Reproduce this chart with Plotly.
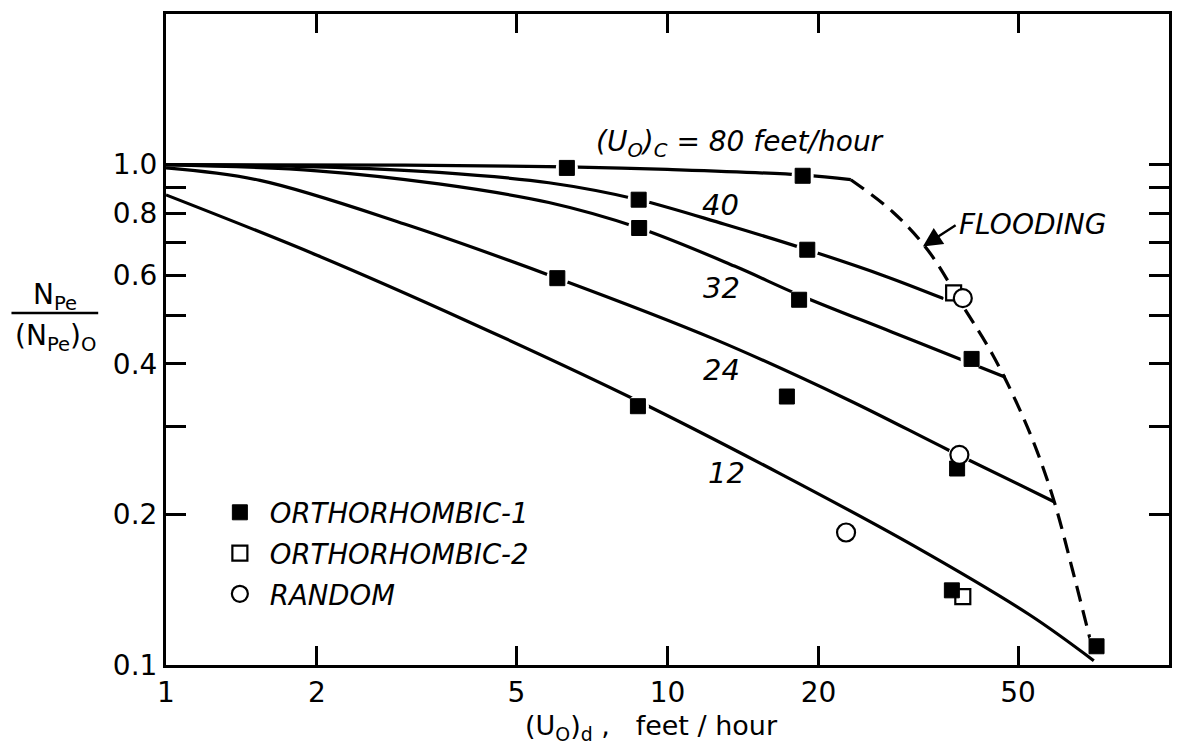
import numpy as np
import plotly.graph_objects as go

# ---- curves: N_Pe/(N_Pe)_0 vs (U_0)_d for several continuous-phase velocities ----
c80_x = [1, 3, 6.3, 10, 18.6, 23.2]
c80_y = [1.0, 0.998, 0.99, 0.978, 0.953, 0.933]

c40_x = [1, 2, 3.5, 5.8, 8.76, 13, 19.0, 27, 35.5]
c40_y = [1.0, 0.99, 0.965, 0.92, 0.851, 0.76, 0.676, 0.6, 0.54]

c32_x = [1, 2, 3.5, 5.8, 8.78, 13.6, 18.3, 28, 40.4, 47.2]
c32_y = [1.0, 0.972, 0.915, 0.84, 0.747, 0.627, 0.549, 0.463, 0.40, 0.376]

c24_x = [1, 1.54, 3, 6.03, 12.4, 22.9, 36.3, 59]
c24_y = [0.985, 0.93, 0.76, 0.593, 0.448, 0.339, 0.269, 0.212]

c12_x = [1, 2, 4, 8.73, 16.8, 31, 52.7, 70.8]
c12_y = [0.87, 0.659, 0.486, 0.337, 0.241, 0.173, 0.126, 0.102]

# flooding limit (dashed)
flood_x = [23.2, 28.1, 33.0, 38.8, 44.5, 49.9, 54.6, 59.3, 64.2, 69.7]
flood_y = [0.933, 0.805, 0.676, 0.522, 0.417, 0.331, 0.267, 0.209, 0.155, 0.112]

# ---- measured points by packing type ----
ortho1_x = [6.3, 18.6, 8.76, 19.0, 8.78, 18.3, 40.4, 6.03, 17.3, 37.8, 8.73, 36.9, 71.7]
ortho1_y = [0.985, 0.95, 0.851, 0.676, 0.747, 0.537, 0.409, 0.593, 0.344, 0.247, 0.329, 0.141, 0.109]

ortho2_x = [37.2, 38.8]
ortho2_y = [0.554, 0.137]

random_x = [38.8, 38.2, 22.7]
random_y = [0.541, 0.263, 0.184]

curve_labels = ["40", "32", "24", "12"]
curve_label_x = [12.75, 12.82, 12.82, 13.1]
curve_label_y = [0.832, 0.568, 0.389, 0.242]

FONT = "DejaVu Sans"
fig = go.Figure()

for cx, cy in [(c80_x, c80_y), (c40_x, c40_y), (c32_x, c32_y), (c24_x, c24_y), (c12_x, c12_y)]:
    fig.add_trace(go.Scatter(x=cx, y=cy, mode="lines", showlegend=False,
                             line=dict(color="black", width=3.2, shape="spline", smoothing=1.0),
                             hoverinfo="skip"))

fig.add_trace(go.Scatter(x=flood_x, y=flood_y, mode="lines", showlegend=False,
                         line=dict(color="black", width=3.2, dash="16px,9px", shape="spline", smoothing=1.0),
                         hoverinfo="skip"))

# white halos so the lines break around each symbol
all_x = ortho1_x + ortho2_x + random_x
all_y = ortho1_y + ortho2_y + random_y
fig.add_trace(go.Scatter(x=all_x, y=all_y, mode="markers", showlegend=False, hoverinfo="skip",
                         marker=dict(symbol="circle", size=22, color="white", line=dict(width=0))))

fig.add_trace(go.Scatter(x=ortho1_x, y=ortho1_y, mode="markers", name="ORTHORHOMBIC-1",
                         legendgroup="a",
                         marker=dict(symbol="square", size=15, color="black",
                                     line=dict(color="black", width=1))))
fig.add_trace(go.Scatter(x=ortho2_x, y=ortho2_y, mode="markers", name="ORTHORHOMBIC-2",
                         legendgroup="b",
                         marker=dict(symbol="square-open", size=15, color="black",
                                     line=dict(color="black", width=2.2))))
fig.add_trace(go.Scatter(x=random_x, y=random_y, mode="markers", name="RANDOM",
                         legendgroup="c",
                         marker=dict(symbol="circle", size=18, color="white",
                                     line=dict(color="black", width=2.2))))

annotations = []
for t, lx, ly in zip(curve_labels, curve_label_x, curve_label_y):
    annotations.append(dict(x=np.log10(lx), y=np.log10(ly), text="<i>" + t + "</i>", showarrow=False,
                            font=dict(family=FONT, size=29, color="black"),
                            xanchor="center", yanchor="middle"))

annotations.append(dict(x=np.log10(7.13), y=np.log10(1.10),
                        text="<i>(U<sub>O</sub>)<sub>C</sub> = 80 feet/hour</i>",
                        showarrow=False, xanchor="left", yanchor="middle",
                        font=dict(family=FONT, size=28, color="black")))

annotations.append(dict(x=np.log10(32.3), y=np.log10(0.686), ax=np.log10(37.8), ay=np.log10(0.76),
                        axref="x", ayref="y", text="", showarrow=True,
                        arrowhead=2, arrowsize=1.6, arrowwidth=2.4, arrowcolor="black"))
annotations.append(dict(x=np.log10(37.8), y=np.log10(0.76), text="<i>FLOODING</i>",
                        showarrow=False, xanchor="left", yanchor="middle",
                        font=dict(family=FONT, size=28, color="black")))

# axis titles
PW, PH = 1172 - 166, 665 - 14
annotations.append(dict(x=(653 - 166) / PW, y=-(727 - 665) / PH,
                        xref="paper", yref="paper",
                        text="(U<sub>O</sub>)<sub>d</sub> ,   feet / hour", showarrow=False,
                        xanchor="center", yanchor="middle",
                        font=dict(family=FONT, size=27, color="black")))
annotations.append(dict(x=(55 - 166) / PW, y=(665 - 296) / PH,
                        xref="paper", yref="paper", text="N<sub>Pe</sub>", showarrow=False,
                        xanchor="center", yanchor="middle",
                        font=dict(family=FONT, size=28, color="black")))
annotations.append(dict(x=(55 - 166) / PW, y=(665 - 338) / PH,
                        xref="paper", yref="paper", text="(N<sub>Pe</sub>)<sub>O</sub>", showarrow=False,
                        xanchor="center", yanchor="middle",
                        font=dict(family=FONT, size=28, color="black")))

shapes = [dict(type="line", xref="paper", yref="paper",
               x0=(11 - 166) / PW, x1=(98 - 166) / PW,
               y0=(665 - 313) / PH, y1=(665 - 313) / PH,
               line=dict(color="black", width=2.5))]

y_ticks = [0.1, 0.2, 0.3, 0.4, 0.5, 0.6, 0.7, 0.8, 0.9, 1.0]
y_tick_text = ["0.1", "0.2", "", "0.4", "", "0.6", "", "0.8", "", "1.0"]
x_ticks = [1, 2, 5, 10, 20, 50, 100]
x_tick_text = ["1", "2", "5", "10", "20", "50", "100"]

fig.update_layout(
    width=1183, height=748,
    margin=dict(l=166, r=11, t=14, b=83),
    paper_bgcolor="white", plot_bgcolor="white",
    font=dict(family=FONT, color="black"),
    annotations=annotations, shapes=shapes,
    legend=dict(x=(210 - 166) / PW, y=0.272, xanchor="left", yanchor="top",
                bgcolor="rgba(0,0,0,0)", tracegroupgap=2, itemwidth=50,
                font=dict(family=FONT, size=27.5, color="black", style="italic")),
    xaxis=dict(type="log", range=[0, 2], tickvals=x_ticks, ticktext=x_tick_text,
               ticks="inside", ticklen=19, tickwidth=2.5, tickcolor="black",
               showline=True, linewidth=3, linecolor="black", mirror="ticks",
               showgrid=False, zeroline=False,
               tickfont=dict(family=FONT, size=28, color="black")),
    yaxis=dict(type="log", range=[-1, np.log10(2.0)], tickvals=y_ticks, ticktext=y_tick_text,
               ticks="inside", ticklen=20, tickwidth=2.5, tickcolor="black",
               showline=True, linewidth=3, linecolor="black", mirror="ticks",
               showgrid=False, zeroline=False,
               tickfont=dict(family=FONT, size=28, color="black")),
)

fig.write_html("out.html")
